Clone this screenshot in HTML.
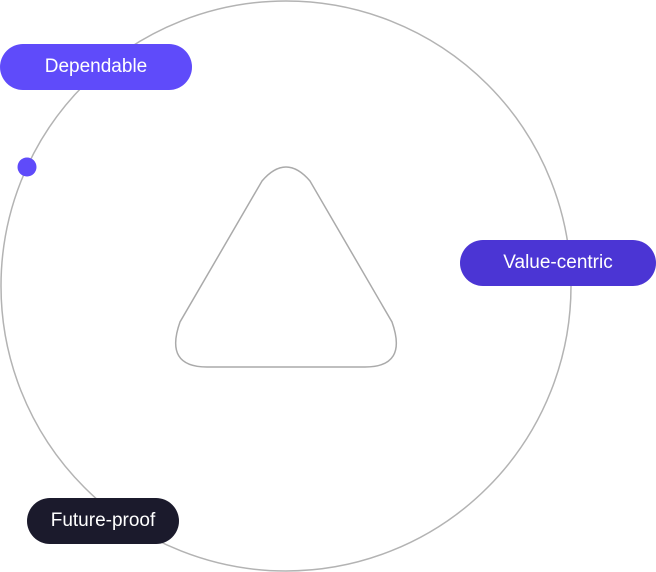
<!DOCTYPE html>
<html><head><style>
body{margin:0;width:656px;height:572px;background:#fff;position:relative;overflow:hidden;font-family:"Liberation Sans",sans-serif}
.pill{position:absolute;height:46px;border-radius:23px;color:#fff;font-size:19px;display:flex;align-items:center;justify-content:center}
</style></head><body>
<svg width="656" height="572" style="position:absolute;left:0;top:0">
<circle cx="286" cy="286" r="285" fill="none" stroke="#b3b3b3" stroke-width="1.5"/>
<path d="M262 181 Q286 153 310 181 L392 322 Q408 367 365 367 L207 367 Q164 367 180 322 Z" fill="none" stroke="#aaa" stroke-width="1.5"/>
<circle cx="27" cy="167" r="9.5" fill="#5f4bfa"/>
</svg>
<div class="pill" style="left:0;top:44px;width:192px;background:#5f4bfa">Dependable</div>
<div class="pill" style="left:460px;top:240px;width:196px;background:#4b35d4">Value-centric</div>
<div class="pill" style="left:27px;top:498px;width:152px;background:#1b1a2c">Future-proof</div>
</body></html>
